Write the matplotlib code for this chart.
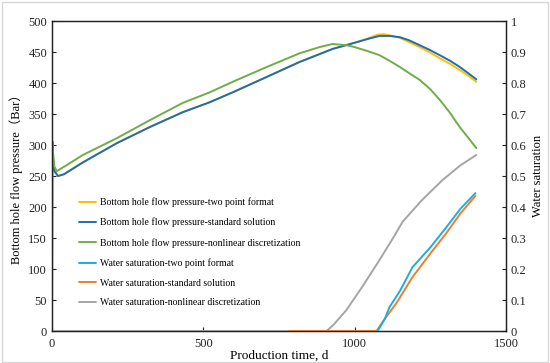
import matplotlib
matplotlib.use("Agg")
import matplotlib.pyplot as plt
from matplotlib.patches import Rectangle

plt.rcParams['font.family'] = ['Liberation Serif', 'Noto Sans CJK SC', 'DejaVu Sans']

# Bottom hole flow pressure (Bar)
t_green = [0, 1, 3, 8, 16, 50, 102, 214, 323, 432, 521, 597, 710, 818, 884, 927, 974, 1000, 1040, 1082, 1115, 1149, 1180, 1215, 1250, 1281, 1315, 1347, 1375, 1402]
p_green = [0, 306, 290, 265, 258, 268, 284, 311, 340, 368, 385, 402, 426, 448, 458, 463, 461, 458, 452, 445, 436, 426, 416, 405, 390, 373, 352, 329, 312, 295]

t_blue = [0, 1, 3, 8, 20, 40, 102, 214, 323, 432, 521, 597, 710, 818, 927, 1007, 1050, 1082, 1115, 1149, 1180, 1215, 1250, 1281, 1315, 1347, 1375, 1402]
p_blue = [0, 306, 280, 258, 250, 253, 272, 303, 329, 353, 369, 385, 410, 434, 455, 466, 472, 476, 476, 474, 469, 461, 453, 445, 436, 426, 416, 406]

t_yellow = [0, 1, 3, 8, 20, 40, 102, 214, 323, 432, 521, 597, 710, 818, 927, 1007, 1050, 1075, 1095, 1115, 1149, 1180, 1215, 1250, 1281, 1315, 1347, 1375, 1402]
p_yellow = [0, 306, 280, 258, 250, 253, 272, 303, 329, 353, 369, 385, 410, 434, 455, 466, 473, 478, 479, 477, 473, 466, 458, 449, 440, 431, 421, 412, 402]

# Water saturation
t_gray = [0, 907, 930, 973, 1030, 1082, 1130, 1158, 1220, 1290, 1350, 1402]
s_gray = [0, 0, 0.02, 0.068, 0.15, 0.229, 0.305, 0.352, 0.42, 0.487, 0.535, 0.568]

t_orange = [785, 1072, 1100, 1138, 1191, 1250, 1303, 1350, 1399]
s_orange = [0, 0, 0.04, 0.09, 0.174, 0.25, 0.316, 0.38, 0.436]

t_cyan = [1076, 1100, 1115, 1150, 1191, 1250, 1303, 1350, 1399]
s_cyan = [0, 0.04, 0.077, 0.13, 0.206, 0.27, 0.335, 0.395, 0.445]

labels = ["Bottom hole flow pressure-two point format",
          "Bottom hole flow pressure-standard solution",
          "Bottom hole flow pressure-nonlinear discretization",
          "Water saturation-two point format",
          "Water saturation-standard solution",
          "Water saturation-nonlinear discretization"]

c_yellow = '#FFC000'
c_blue = '#1F6CB5'
c_green = '#70AD47'
c_cyan = '#1CADE4'
c_orange = '#ED7D31'
c_gray = '#A5A5A5'

fig = plt.figure(figsize=(5.5, 3.63), dpi=100)
ax = fig.add_axes([0.0945, 0.088, 0.8255, 0.854])
ax2 = ax.twinx()

lw = 1.4
kw = dict(lw=lw, solid_joinstyle='round', solid_capstyle='round')
l1, = ax.plot(t_yellow, p_yellow, color=c_yellow, label=labels[0], **kw)
l2, = ax.plot(t_blue, p_blue, color=c_blue, label=labels[1], **kw)
l3, = ax.plot(t_green, p_green, color=c_green, label=labels[2], **kw)
l6, = ax2.plot(t_gray, s_gray, color=c_gray, label=labels[5], zorder=1, **kw)
l5, = ax2.plot(t_orange, s_orange, color=c_orange, label=labels[4], zorder=2, **kw)
l4, = ax2.plot(t_cyan, s_cyan, color=c_cyan, label=labels[3], zorder=3, **kw)

ax.set_xlim(0, 1500)
ax.set_ylim(0, 500)
ax2.set_ylim(0, 1)
ax.set_xticks([0, 500, 1000, 1500])
ax.set_yticks(range(0, 501, 50))
ax2.set_yticks([0, 0.1, 0.2, 0.3, 0.4, 0.5, 0.6, 0.7, 0.8, 0.9, 1])
ax2.set_yticklabels(['0', '0.1', '0.2', '0.3', '0.4', '0.5', '0.6', '0.7', '0.8', '0.9', '1'])

for a in (ax, ax2):
    a.tick_params(direction='in', length=3, width=0.8, labelsize=9, colors='#222222')
    for s in a.spines.values():
        s.set_color('#222222')
        s.set_linewidth(0.9)
ax.tick_params(axis='x', pad=5)

ax.set_xlabel("Production time, d", fontsize=9.5, labelpad=0)
ax.set_ylabel("Bottom hole flow pressure（Bar）", fontsize=9, labelpad=4)
ax2.set_ylabel("Water saturation", fontsize=9, labelpad=4)

ax.legend(handles=[l1, l2, l3, l4, l5, l6], loc='upper left',
          bbox_to_anchor=(0.04, 0.46), frameon=False, fontsize=7,
          handlelength=1.8, handletextpad=0.4, labelspacing=1.1)

fig.patches.append(Rectangle((0.003, 0.004), 0.993, 0.99, transform=fig.transFigure,
                             fill=False, edgecolor='#D8D8D8', lw=1))

fig.savefig("out.png", dpi=100)
